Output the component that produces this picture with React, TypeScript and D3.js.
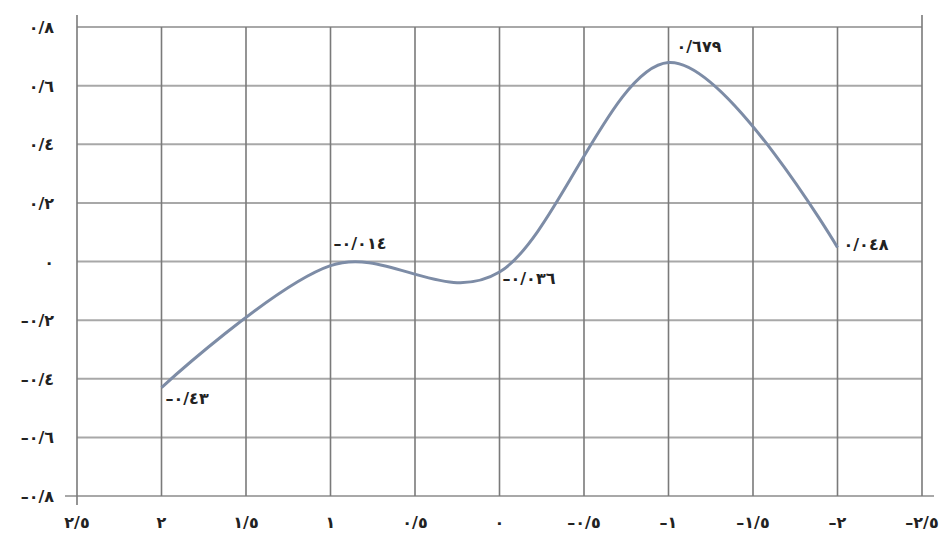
import React from "react";
import * as d3 from "d3";

const xValues = [2, 1, 0, -1, -2];
const yValues = [-0.43, -0.014, -0.036, 0.679, 0.048];
const pointLabels = ["\u2013\u0660/\u0664\u0663", "\u2013\u0660/\u0660\u0661\u0664", "\u2013\u0660/\u0660\u0663\u0666", "\u0660/\u0666\u0667\u0669", "\u0660/\u0660\u0664\u0668"];
const xTicks = [2.5, 2, 1.5, 1, 0.5, 0, -0.5, -1, -1.5, -2, -2.5];
const yTicks = [0.8, 0.6, 0.4, 0.2, 0, -0.2, -0.4, -0.6, -0.8];

const W = 943, H = 533;
const left = 77, right = 922, top = 27, bottom = 496;

const AR = "\u0660\u0661\u0662\u0663\u0664\u0665\u0666\u0667\u0668\u0669";
function fmt(v: number): string {
  if (v === 0) return "\u0660";
  const neg = v < 0;
  const s = Math.abs(v).toString().split("").map(c => (c === "." ? "/" : AR[+c])).join("");
  return (neg ? "\u2013" : "") + s;
}

export default function App() {
  const x = d3.scaleLinear().domain([2.5, -2.5]).range([left, right]);
  const y = d3.scaleLinear().domain([-0.8, 0.8]).range([bottom, top]);
  const pts = xValues.map((v, i) => [x(v), y(yValues[i])] as [number, number]);
  const path = d3.line().curve(d3.curveCardinal.tension(0))(pts) || "";
  const font = "'DejaVu Sans', sans-serif";
  const txt: React.CSSProperties = { unicodeBidi: "bidi-override", direction: "ltr" } as any;
  const offs: [number, number][] = [[4, 16], [3, -17], [3, 12], [8, -10], [6, 3]];
  const fs = 16;
  const ls = 1.5;
  return (
    <svg width={W} height={H} style={{ position: "absolute", left: 0, top: 0, background: "#fff" }}>
      {yTicks.map(t => (
        <line key={"h" + t} x1={left} x2={t === -0.8 ? 934 : right} y1={y(t)} y2={y(t)}
          stroke="#a8a8a8" strokeWidth={2} />
      ))}
      <line x1={65} x2={left} y1={bottom} y2={bottom} stroke="#a8a8a8" strokeWidth={2} />
      {xTicks.map(t => (
        <line key={"v" + t} x1={x(t)} x2={x(t)} y1={t === 2.5 || t === -2.5 ? 15 : top}
          y2={t === 2.5 ? 505 : bottom} stroke="#7a7a7a" strokeWidth={1.6} />
      ))}
      {yTicks.map(t => (
        <text key={"yl" + t} x={54} y={y(t) + 6} textAnchor="end" fontFamily={font} fontWeight="bold"
          fontSize={fs} letterSpacing={ls} fill="#222" style={txt}>{t > 0 ? "\u0660/" + AR[Math.round(t * 10)] : fmt(t)}</text>
      ))}
      {xTicks.map(t => (
        <text key={"xl" + t} x={x(t)} y={528} textAnchor="middle" fontFamily={font} fontWeight="bold"
          fontSize={fs} letterSpacing={ls} fill="#222" style={txt}>{fmt(t)}</text>
      ))}
      <path d={path} fill="none" stroke="#7d8ca6" strokeWidth={3} />
      {pts.map((p, i) => (
        <text key={"pl" + i} x={p[0] + offs[i][0]} y={p[1] + offs[i][1]} fontFamily={font} fontWeight="bold"
          fontSize={fs} letterSpacing={ls + 1} fill="#222" style={txt}>{pointLabels[i]}</text>
      ))}
    </svg>
  );
}
